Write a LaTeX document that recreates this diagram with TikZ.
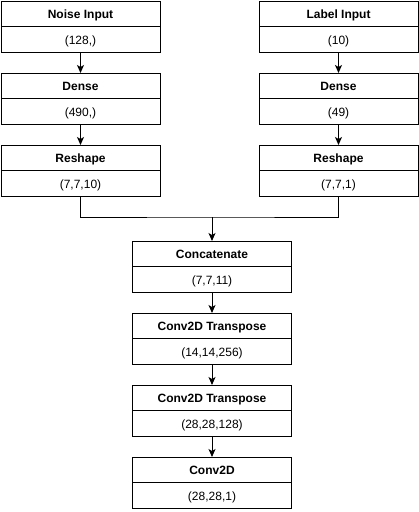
\documentclass[tikz,border=0pt]{standalone}
\usepackage{fontspec}
\setmainfont{Liberation Sans}
\usetikzlibrary{positioning,arrows.meta}
\tikzset{
  layer/.style={draw, line width=1pt, minimum width=159pt, minimum height=25.5pt,
    inner sep=0pt, outer sep=0pt, text height=12pt, text depth=2.5pt,
    font=\fontsize{12}{14}\selectfont\bfseries},
  dims/.style={layer, font=\fontsize{12}{14}\selectfont},
  flow/.style={-{Stealth[length=8pt,width=7pt,inset=2pt]}, line width=1pt}
}

\begin{document}
\begin{tikzpicture}[x=1pt,y=1pt]
    \useasboundingbox (0,0) rectangle (419,-512);
    % noise branch
    \node[layer] (noise) at (80.5,-13.75) {Noise Input};
    \node[dims, below=0pt of noise] (noiseD) {(128,)};
    \node[layer, below=21pt of noiseD] (dense1) {Dense};
    \node[dims, below=0pt of dense1] (dense1D) {(490,)};
    \node[layer, below=21pt of dense1D] (reshape1) {Reshape};
    \node[dims, below=0pt of reshape1] (reshape1D) {(7,7,10)};
    % label branch
    \node[layer] (label) at (338.5,-13.75) {Label Input};
    \node[dims, below=0pt of label] (labelD) {(10)};
    \node[layer, below=21pt of labelD] (dense2) {Dense};
    \node[dims, below=0pt of dense2] (dense2D) {(49)};
    \node[layer, below=21pt of dense2D] (reshape2) {Reshape};
    \node[dims, below=0pt of reshape2] (reshape2D) {(7,7,1)};
    % merged part
    \node[layer] (concat) at (212,-253.75) {Concatenate};
    \node[dims, below=0pt of concat] (concatD) {(7,7,11)};
    \node[layer, below=21pt of concatD] (convt1) {Conv2D Transpose};
    \node[dims, below=0pt of convt1] (convt1D) {(14,14,256)};
    \node[layer, below=21pt of convt1D] (convt2) {Conv2D Transpose};
    \node[dims, below=0pt of convt2] (convt2D) {(28,28,128)};
    \node[layer, below=21pt of convt2D] (conv) {Conv2D};
    \node[dims, below=0pt of conv] (convD) {(28,28,1)};
    % arrows
    \draw[flow] (noiseD) -- (dense1);
    \draw[flow] (dense1D) -- (reshape1);
    \draw[flow] (labelD) -- (dense2);
    \draw[flow] (dense2D) -- (reshape2);
    \coordinate (join) at (212,-217);
    \draw[line width=1pt] (reshape1D.south) |- (join) -| (reshape2D.south);
    \draw[flow] (join) -- (concat.north);
    \draw[flow] (concatD) -- (convt1);
    \draw[flow] (convt1D) -- (convt2);
    \draw[flow] (convt2D) -- (conv);
\end{tikzpicture}
\end{document}
